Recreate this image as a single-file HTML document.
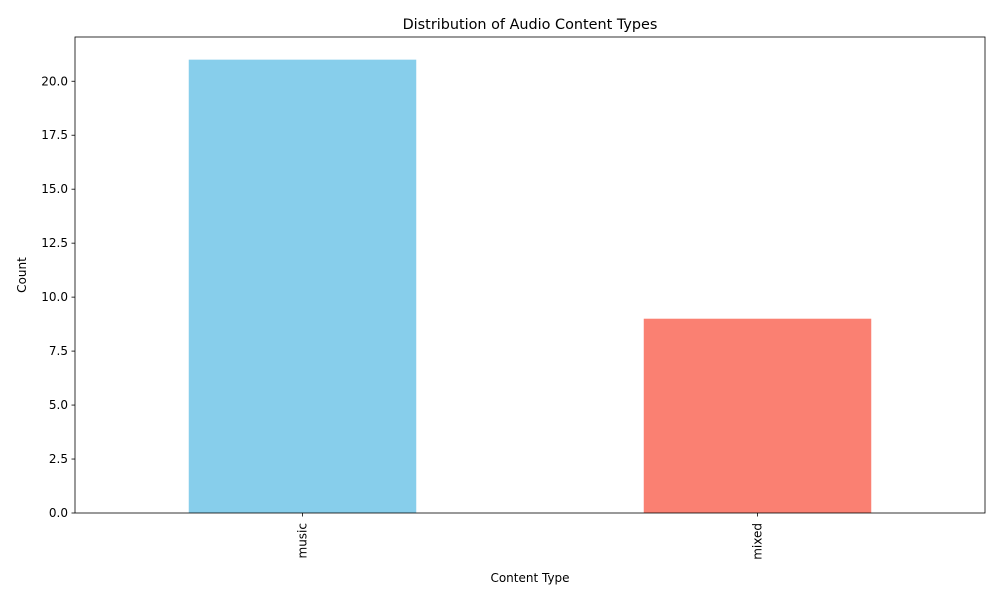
<!DOCTYPE html>
<html><head><meta charset="utf-8"><style>
body{margin:0;background:#fff;font-family:"Liberation Sans","DejaVu Sans",sans-serif;}
svg text{font-family:"DejaVu Sans","Liberation Sans",sans-serif;fill:#000;}
</style></head><body>
<svg id="chart" width="1000" height="600"></svg>
<script>
const categories = ["music", "mixed"];
const counts = [21, 9];
const colors = ["#87ceeb", "#fa8072"];
const yTicks = [0, 2.5, 5, 7.5, 10, 12.5, 15, 17.5, 20];
const yTickLabels = ["0.0","2.5","5.0","7.5","10.0","12.5","15.0","17.5","20.0"];

const L=75,R=985,T=37,B=513;
const yMax = Math.max(...counts)*1.05;
const y = v => B - v/yMax*(B-T);
const step = (R-L)/categories.length;
const xc = i => L + step*(i+0.5);
const bw = step*0.5;
const svg = document.getElementById('chart');
const NS='http://www.w3.org/2000/svg';
function mk(tag, attrs, parent){const e=document.createElementNS(NS,tag);for(const k in attrs)e.setAttribute(k,attrs[k]);(parent||svg).appendChild(e);return e;}

categories.forEach((c,i)=>{
  const r=mk('rect',{x:xc(i)-bw/2,y:y(counts[i]),width:bw,height:B-y(counts[i]),fill:colors[i%colors.length]});
  
  
  mk('line',{x1:xc(i),x2:xc(i),y1:B,y2:B+3.5,stroke:'#000','stroke-width':0.8});
  const t=mk('text',{x:0,y:0,'font-size':12,'text-anchor':'end','dominant-baseline':'central',transform:`translate(${xc(i)},${B+10}) rotate(-90)`});
  t.textContent=c;
  
  
});
yTicks.forEach((v,i)=>{
  mk('line',{x1:L-3.5,x2:L,y1:y(v),y2:y(v),stroke:'#000','stroke-width':0.8});
  const t=mk('text',{x:L-7,y:y(v)+4,'font-size':12,'text-anchor':'end'});
  t.textContent=yTickLabels[i];
  
  
});
const frame=mk('rect',{x:L,y:T,width:R-L,height:B-T,fill:'none',stroke:'#000','stroke-width':0.8});


const title=mk('text',{x:(L+R)/2,y:29,'font-size':14.4,'text-anchor':'middle'});
title.textContent='Distribution of Audio Content Types';


const xl=mk('text',{x:(L+R)/2,y:582,'font-size':12,'text-anchor':'middle'});
xl.textContent='Content Type';


const yl=mk('text',{x:0,y:0,'font-size':12,'text-anchor':'middle',transform:`translate(26,${(T+B)/2}) rotate(-90)`});
yl.textContent='Count';


</script>
</body></html>
